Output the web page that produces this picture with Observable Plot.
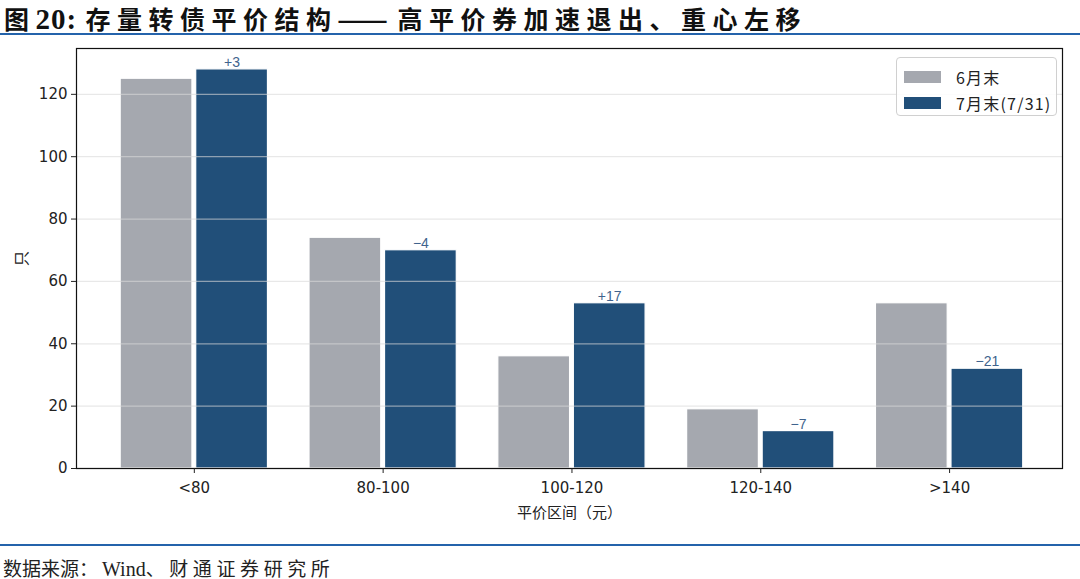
<!DOCTYPE html>
<html>
<head>
<meta charset="utf-8">
<script src="https://cdn.jsdelivr.net/npm/d3@7"></script>
<script src="https://cdn.jsdelivr.net/npm/@observablehq/plot@0.6"></script>
<style>
  html, body { margin:0; padding:0; background:#fff; }
  body { width:1080px; height:579px; overflow:hidden; }
  #title { height:33px; border-bottom:2px solid #2463ab; padding-left:4px; white-space:nowrap; overflow:visible; font-family:"Noto Sans CJK SC",sans-serif; font-size:25px; line-height:37px; font-weight:bold; color:#111; }
  #title .cjk { letter-spacing:6.5px; }
  #title .dashbox { display:inline-block; width:60px; vertical-align:baseline; }
  #title .dash { display:inline-block; letter-spacing:0; transform:scaleX(1.2); transform-origin:left center; }
  #title .num { font-family:"Liberation Serif",serif; font-size:29px; letter-spacing:1px; }
  #chart { position:relative; height:509px; }
  #legend { position:absolute; left:896px; top:22px; width:161px; height:59px; border:1px solid #d0d0d0; border-radius:4px; background:rgba(255,255,255,0.85); box-sizing:border-box; font-family:"Noto Sans CJK SC",sans-serif; font-size:16px; letter-spacing:1.2px; color:#222; }
  #legend .item { position:absolute; left:7px; display:flex; align-items:center; }
  #legend .sw { width:37px; height:12px; margin-right:15px; }
  #foot { border-top:2px solid #2463ab; padding-top:10px; padding-left:3px; font-family:"Noto Sans CJK SC",sans-serif; font-size:19px; line-height:24px; color:#222; white-space:nowrap; }
  #foot .w { font-family:"Liberation Serif",serif; font-size:20px; letter-spacing:0; }
</style>
</head>
<body>
<div id="title"><span class="cjk">图</span><span class="num">20:&nbsp;</span><span class="cjk">存量转债平价结构</span><span class="dashbox"><span class="dash">——</span></span><span class="cjk">高平价券加速退出、重心左移</span></div>
<div id="chart"><div id="legend"></div></div>
<div id="foot"><span>数据来源</span><span style="letter-spacing:4px">：</span><span class="w">Wind</span><span style="letter-spacing:4.6px">、财通证券研究所</span></div>
<script>
const categories = ["<80", "80-100", "100-120", "120-140", ">140"];
const juneCounts = [125, 74, 36, 19, 53];
const julyCounts = [128, 70, 53, 12, 32];
const seriesNames = ["6月末", "7月末(7/31)"];
const seriesColors = ["#a5a8af", "#214f79"];
const yTicks = [0, 20, 40, 60, 80, 100, 120];

const rows = [];
categories.forEach((c, i) => {
  rows.push({i, cat: c, s: 0, v: juneCounts[i]});
  rows.push({i, cat: c, s: 1, v: julyCounts[i]});
});
const julyRows = rows.filter(d => d.s === 1).map(d => ({...d, diff: d.v - juneCounts[d.i]}));
const fmt = d => (d > 0 ? "+" : "\u2212") + Math.abs(d);

const halfW = 0.19, off = 0.2;
const pos = d => d.i + (d.s ? off : -off);

const chart = Plot.plot({
  width: 1080, height: 509,
  marginTop: 13, marginBottom: 76, marginLeft: 76, marginRight: 18,
  style: {fontFamily: "'DejaVu Sans','Noto Sans CJK SC',sans-serif", fontSize: "15px", color: "#222", background: "transparent"},
  x: {type: "linear", domain: [-0.624, 4.598]},
  y: {domain: [0, 134.7]},
  marks: [
    Plot.rectY(rows, {x1: d => pos(d) - halfW, x2: d => pos(d) + halfW, y1: 0, y2: "v", fill: d => seriesColors[d.s], stroke: "white", strokeWidth: 1.2}),
    Plot.gridY(yTicks, {stroke: "#d8d8d8", strokeOpacity: 0.6, strokeWidth: 1.3}),
    Plot.text(julyRows, {x: d => pos(d), y: "v", text: d => fmt(d.diff), dy: -7, fill: "#40638d", fontSize: 14, fontFamily: "'Liberation Sans',sans-serif"}),
    Plot.frame({stroke: "#111", strokeWidth: 1.2}),
    Plot.axisY(yTicks, {tickSize: 5, tickPadding: 4, fontSize: 15, label: "只", labelAnchor: "center", labelArrow: "none", labelOffset: 60}),
    Plot.axisX(d3.range(categories.length), {tickFormat: i => categories[i], tickSize: 5, tickPadding: 9, fontSize: 15, label: "平价区间（元）", labelAnchor: "center", labelArrow: "none", labelOffset: 49})
  ]
});
document.getElementById("chart").prepend(chart);

const legend = document.getElementById("legend");
seriesNames.forEach((n, k) => {
  const it = document.createElement("div");
  it.className = "item";
  it.style.top = (7 + k * 26) + "px";
  it.innerHTML = `<span class="sw" style="background:${seriesColors[k]}"></span><span>${n}</span>`;
  legend.appendChild(it);
});
</script>
</body>
</html>
